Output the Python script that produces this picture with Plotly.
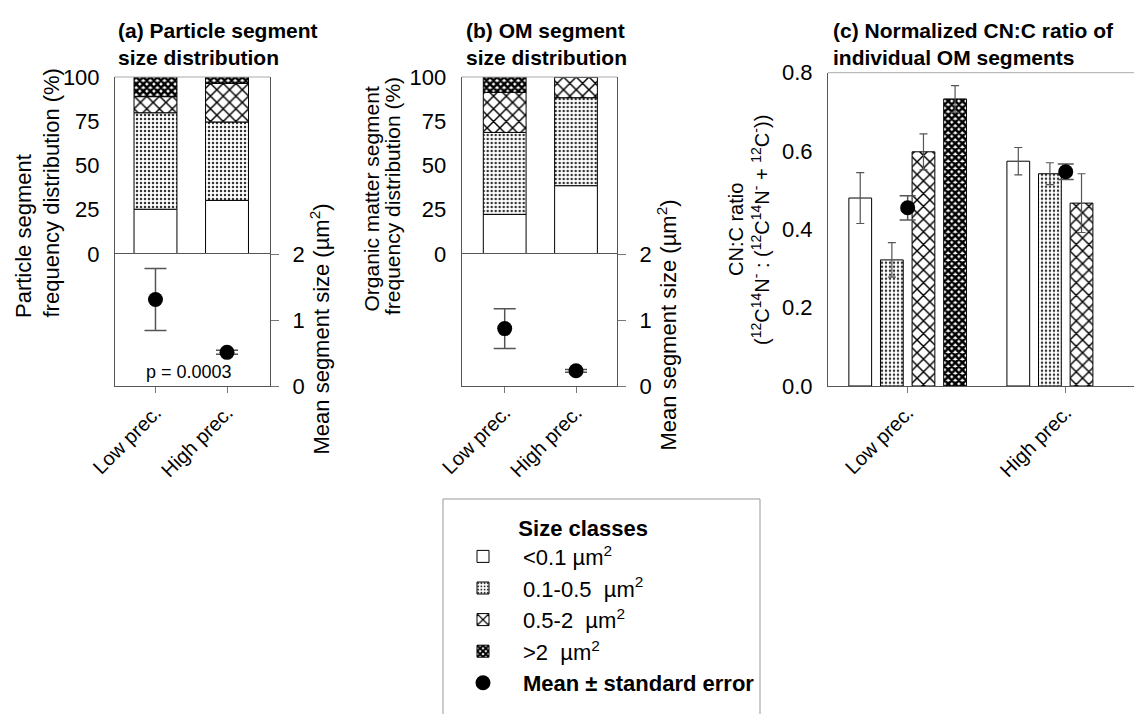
import plotly.graph_objects as go

# ---------------- data ----------------
cats = ["Low prec.", "High prec."]
class_names = ["&lt;0.1 µm<sup>2</sup>", "0.1-0.5  µm<sup>2</sup>", "0.5-2  µm<sup>2</sup>", "&gt;2  µm<sup>2</sup>"]

# (a) particle segment frequency distribution (%)
part_lt01 = [25.3, 30.3]
part_01_05 = [54.5, 44.3]
part_05_2 = [9.1, 21.8]
part_gt2 = [11.1, 3.6]
part_mean = [1.31, 0.51]
part_se = [0.47, 0.03]

# (b) OM segment frequency distribution (%)
om_lt01 = [22.4, 38.6]
om_01_05 = [46.3, 49.7]
om_05_2 = [22.7, 11.7]
om_gt2 = [8.6, 0.0]
om_mean = [0.87, 0.23]
om_se = [0.30, 0.02]

# (c) normalized CN:C ratio
cn_lt01 = [0.480, 0.574]
cn_lt01_se = [0.065, 0.035]
cn_01_05 = [0.322, 0.542]
cn_01_05_se = [0.044, 0.028]
cn_05_2 = [0.598, 0.467]
cn_05_2_se = [0.046, 0.075]
cn_gt2 = [0.733, None]
cn_gt2_se = [0.034, None]
cn_mean = [0.455, 0.547]
cn_mean_se = [0.031, 0.020]

# ---------------- styles ----------------
FONT = "Liberation Sans, Arial, sans-serif"
W, H = 1134, 714
AX = "#555555"
ERR = "#555555"

def px(x):
    return x / W

def py(y):
    return (H - y) / H

styles = [
    dict(color="white", pattern=dict(shape="")),
    dict(color="white", pattern=dict(shape=".", fgcolor="#333333", bgcolor="white", size=4, solidity=0.3)),
    dict(color="white", pattern=dict(shape="x", fgcolor="#000000", bgcolor="white", size=9, solidity=0.3)),
    dict(color="white", pattern=dict(shape="x", fgcolor="#000000", bgcolor="white", size=5, solidity=0.75)),
]

fig = go.Figure()

def add_stack(series, xa, ya, show_legend):
    base = [0.0, 0.0]
    for k, vals in enumerate(series):
        st = styles[k]
        fig.add_trace(go.Bar(
            x=cats, y=vals, base=list(base), xaxis=xa, yaxis=ya, width=0.6,
            marker=dict(color=st["color"], pattern=st["pattern"], line=dict(color="black", width=1)),
            name=class_names[k], showlegend=show_legend, legendrank=k + 1, legendgroup=f"g{k}",
        ))
        base = [b + v for b, v in zip(base, vals)]

add_stack([part_lt01, part_01_05, part_05_2, part_gt2], "x", "y", True)
add_stack([om_lt01, om_01_05, om_05_2, om_gt2], "x2", "y3", False)

def add_mean(x, mean, se, xa, ya, show_legend, capw=11):
    fig.add_trace(go.Scatter(
        x=x, y=mean, xaxis=xa, yaxis=ya, mode="markers",
        marker=dict(color="black", size=15),
        error_y=dict(type="data", array=se, color=ERR, thickness=1.5, width=capw),
        name="<b>Mean ± standard error</b>", showlegend=show_legend, legendrank=10, legendgroup="gm",
    ))

add_mean(cats, part_mean, part_se, "x", "y2", True)
add_mean(cats, om_mean, om_se, "x2", "y4", False)

cn_series = [(cn_lt01, cn_lt01_se), (cn_01_05, cn_01_05_se), (cn_05_2, cn_05_2_se), (cn_gt2, cn_gt2_se)]
bw = 0.144
centers = [-0.3, -0.1, 0.1, 0.3]
for k, (vals, se) in enumerate(cn_series):
    st = styles[k]
    fig.add_trace(go.Bar(
        x=cats, y=vals, xaxis="x3", yaxis="y5", width=bw, offset=centers[k] - bw / 2,
        marker=dict(color=st["color"], pattern=st["pattern"], line=dict(color="black", width=1)),
        error_y=dict(type="data", array=se, color=ERR, thickness=1.2, width=4),
        showlegend=False,
    ))
add_mean(cats, cn_mean, cn_mean_se, "x3", "y5", False, capw=8)

tickfont = dict(family=FONT, size=22, color="black")
xtickfont = dict(family=FONT, size=20, color="black")

xcommon = dict(type="category", tickangle=-45, ticks="outside", ticklen=6, tickcolor="#777777",
               showline=True, linecolor=AX, linewidth=1, tickfont=xtickfont, showgrid=False,
               zeroline=False, automargin=False)
yleft = dict(showline=True, linecolor=AX, ticks="", tickfont=tickfont, showgrid=False, zeroline=False,
             automargin=False, ticklabelstandoff=10)
yright = dict(side="right", showline=True, linecolor=AX, mirror=True, ticks="outside", ticklen=8,
              tickcolor="#777777", tickfont=tickfont, showgrid=False, zeroline=False, automargin=False,
              ticklabelstandoff=9)

fig.update_layout(
    template="none",
    width=W, height=H, margin=dict(l=0, r=0, t=0, b=0, autoexpand=False),
    paper_bgcolor="white", plot_bgcolor="white",
    barmode="overlay", font=dict(family=FONT, color="black"),
    xaxis=dict(domain=[px(115), px(270)], range=[-0.566, 1.601], anchor="y2", mirror=True, **xcommon),
    yaxis=dict(domain=[py(254), py(77)], range=[0, 100], tickvals=[0, 25, 50, 75, 100], anchor="x",
               mirror=True, **yleft),
    yaxis2=dict(domain=[py(386), py(254)], range=[0, 2], tickvals=[0, 1, 2], anchor="x", **yright),
    xaxis2=dict(domain=[px(461.7), px(617)], range=[-0.603, 1.575], anchor="y4", mirror=True, **xcommon),
    yaxis3=dict(domain=[py(254), py(77)], range=[0, 100], tickvals=[0, 25, 50, 75, 100], anchor="x2",
                mirror=True, **yleft),
    yaxis4=dict(domain=[py(386), py(254)], range=[0, 2], tickvals=[0, 1, 2], anchor="x2", **yright),
    xaxis3=dict(domain=[px(828), 1.0], range=[-0.504, 1.432], anchor="y5", **xcommon),
    yaxis5=dict(domain=[py(386), py(72.7)], range=[0, 0.8], tickvals=[0, 0.2, 0.4, 0.6, 0.8], tickformat=".1f",
                anchor="x3", **yleft),
    legend=dict(x=px(443), y=py(507), xanchor="left", yanchor="top",
                title=dict(text="&nbsp;" * 12 + "<b>Size classes</b>",
                           font=dict(family=FONT, size=22)),
                font=dict(family=FONT, size=22, color="black"),
                borderwidth=0, bgcolor="rgba(0,0,0,0)", traceorder="grouped",
                itemwidth=70, tracegroupgap=0),
    showlegend=True,
)

# legend frame (open at the bottom edge of the picture)
fig.add_shape(type="rect", xref="paper", yref="paper", x0=px(443), x1=px(760), y0=py(720), y1=py(499),
              line=dict(color="#999999", width=1), layer="below")

for xr, yr in [("x domain", "y domain"), ("x2 domain", "y3 domain"), ("x3 domain", "y5 domain")]:
    fig.add_shape(type="line", xref=xr, yref=yr, x0=0, x1=1, y0=1, y1=1,
                  line=dict(color="#aaaaaa", width=1))

def ann(text, x, y, size=20, bold=False, angle=0, xanchor="left", yanchor="top", align="left"):
    fig.add_annotation(text=f"<b>{text}</b>" if bold else text, x=px(x), y=py(y), xref="paper", yref="paper",
                       showarrow=False, textangle=angle, xanchor=xanchor, yanchor=yanchor, align=align,
                       font=dict(family=FONT, size=size, color="black"))

# panel titles
ann("(a) Particle segment<br>size distribution", 116, 44, size=21, bold=True, yanchor="middle")
ann("(b) OM segment<br>size distribution", 464, 44, size=21, bold=True, yanchor="middle")
ann("(c) Normalized CN:C ratio of<br>individual OM segments", 831, 44, size=21, bold=True, yanchor="middle")

# axis titles
ann("Particle segment", 23, 320, size=22, angle=-90, xanchor="center", yanchor="bottom")
ann("frequency distribution (%)", 51, 320, size=22, angle=-90, xanchor="center", yanchor="bottom")
ann("Organic matter segment", 371, 314, size=21, angle=-90, xanchor="center", yanchor="bottom")
ann("frequency distribution (%)", 392, 317, size=21, angle=-90, xanchor="center", yanchor="bottom")
ann("Mean segment size (µm<sup>2</sup>)", 320, 457, size=22, angle=-90, xanchor="center", yanchor="bottom")
ann("Mean segment size (µm<sup>2</sup>)", 666, 453, size=22, angle=-90, xanchor="center", yanchor="bottom")
ann("CN:C ratio", 736, 230, size=20, angle=-90, xanchor="center", yanchor="middle")
ann("(<sup>12</sup>C<sup>14</sup>N<sup>-</sup> : (<sup>12</sup>C<sup>14</sup>N<sup>-</sup> + <sup>12</sup>C<sup>-</sup>))",
    761, 230, size=20, angle=-90, xanchor="center", yanchor="middle")
ann("p = 0.0003", 189, 372, size=18, xanchor="center", yanchor="middle")

fig.write_html("out.html")
